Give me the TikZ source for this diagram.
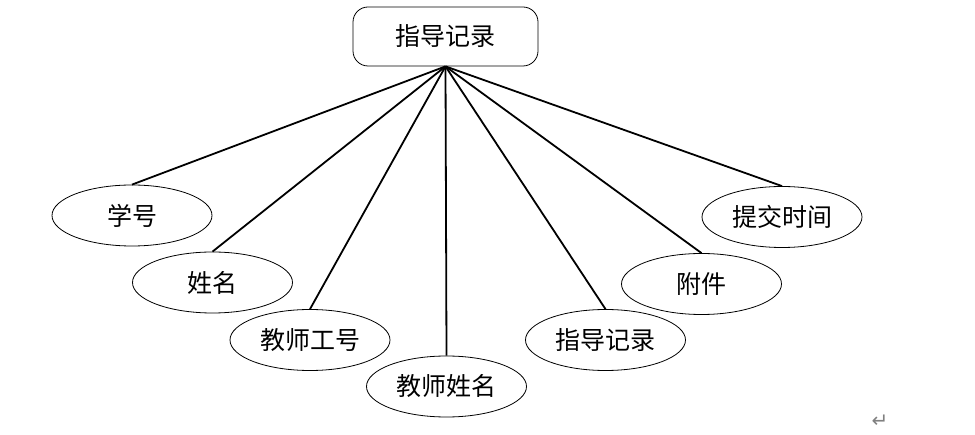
\documentclass[tikz,border=0pt]{standalone}
\usepackage{fontspec}
\setmainfont{Noto Sans CJK SC}
\newfontfamily\symfont{DejaVu Sans}
\usetikzlibrary{shapes.geometric}
\tikzset{
  entbox/.style={draw, rounded corners=15pt, line width=0.8pt, minimum width=185pt, minimum height=59pt, inner sep=0pt, font=\fontsize{25}{29}\selectfont},
  attr/.style={draw, ellipse, line width=0.8pt, minimum width=160pt, minimum height=61pt, inner sep=0pt, font=\fontsize{25}{29}\selectfont},
  link/.style={line width=1.8pt}
}
\begin{document}
\begin{tikzpicture}[x=1pt,y=-1pt]
\useasboundingbox (0,0) rectangle (975,435);
\node[entbox] (rec) at (445.5,36.5) {指导记录};

\node[attr] (xh) at (132,215.5) {学号};
\node[attr] (xm) at (212.5,282.5) {姓名};
\node[attr] (gh) at (310,340) {教师工号};
\node[attr] (jsxm) at (446.5,386.5) {教师姓名};
\node[attr] (zdjl) at (605.5,340) {指导记录};
\node[attr] (fj) at (701.5,284) {附件};
\node[attr] (tjsj) at (782,217) {提交时间};

\foreach \a in {xh,xm,gh,jsxm,zdjl,fj,tjsj}
  \draw[link] (rec.south) -- (\a.north);

\node[text=gray, font=\symfont\fontsize{20}{22}\selectfont] (ret) at (880,421) {↵};
\end{tikzpicture}
\end{document}
